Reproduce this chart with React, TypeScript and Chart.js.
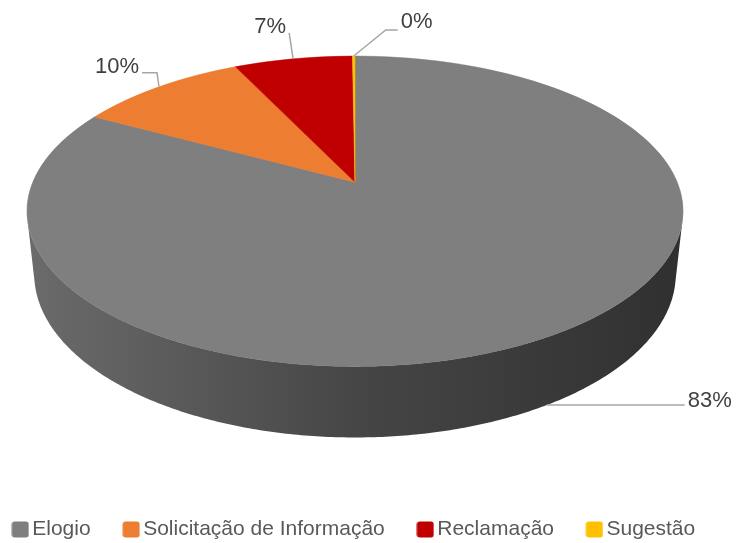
import React, { useEffect, useRef } from "react";
import { Chart, registerables } from "chart.js";

Chart.register(...registerables);

// ---- data ----
const categories = ["Elogio", "Solicitação de Informação", "Reclamação", "Sugestão"];
const values = [83, 10, 7, 0.15];
const sliceColors = ["#7f7f7f", "#ed7d31", "#c00000", "#ffc000"];

// ---- 3D view (layout / style) ----
const VIEW = {
  centerX: 355,
  topY: 56,
  halfWidth: 328,
  pitch: (27.7 * Math.PI) / 180,
  distance: 4.735,
  depth: 0.222,
};
const SIDE_SHADE: [number, number][] = [
  [0, 0.84],
  [0.5, 0.55],
  [1, 0.38],
];
const LABEL_STYLE = [
  { path: [[0, 0], [138, 0]], text: [141, -4], align: "left" },
  { path: [[0, 0], [-2, -14], [-17, -14]], text: [-20, -20], align: "right" },
  { path: [[0, 0], [-4, -26]], text: [-23, -32], align: "center" },
  { path: [[0, 0], [32, -26], [44, -26]], text: [47, -34], align: "left" },
];
const FONT = "'Liberation Sans', Arial, sans-serif";

function makeView() {
  const sin = Math.sin(VIEW.pitch);
  const cos = Math.cos(VIEW.pitch);
  const L = VIEW.distance;
  let maxF = 0;
  for (let i = 0; i <= 2000; i++) {
    const v = -1 + i / 1000;
    const fct = Math.sqrt(Math.max(0, 1 - v * v)) / (L - v * cos);
    if (fct > maxF) maxF = fct;
  }
  const f = VIEW.halfWidth / maxF;
  const X0 = VIEW.centerX;
  const Y0 = VIEW.topY + (f * sin) / (L + cos);
  const project = (u: number, v: number, z: number) => {
    const w = L - v * cos - z * sin;
    return [X0 + (f * u) / w, Y0 + (f * (v * sin - z * cos)) / w];
  };
  const vt = 1 / (L * cos);
  const thR = Math.asin(vt);
  const thL = Math.PI - thR;
  return { sin, cos, L, f, X0, Y0, project, thR, thL };
}

function shade(hex: string, k: number) {
  const n = parseInt(hex.slice(1), 16);
  const r = Math.round(((n >> 16) & 255) * k);
  const g = Math.round(((n >> 8) & 255) * k);
  const b = Math.round((n & 255) * k);
  return `rgb(${r},${g},${b})`;
}

const swatchCache: Record<string, HTMLCanvasElement> = {};
function swatch(color: string) {
  if (swatchCache[color]) return swatchCache[color];
  const c = document.createElement("canvas");
  c.width = 18;
  c.height = 17;
  const x = c.getContext("2d")!;
  x.fillStyle = color;
  x.beginPath();
  (x as any).roundRect(0.5, 0.5, 17, 16, 3);
  x.fill();
  swatchCache[color] = c;
  return c;
}

const pie3d = {
  id: "pie3d",
  beforeDatasetsDraw(chart: any) {
    const meta = chart.getDatasetMeta(0);
    const arcs = meta.data;
    if (!arcs.length) return false;
    const ctx: CanvasRenderingContext2D = chart.ctx;
    const view = makeView();
    const dpr = chart.currentDevicePixelRatio || 1;

    // side walls
    arcs.forEach((arc: any, i: number) => {
      for (let k = -1; k <= 1; k++) {
        const lo = Math.max(arc.startAngle, view.thR + 2 * Math.PI * k);
        const hi = Math.min(arc.endAngle, view.thL + 2 * Math.PI * k);
        if (hi <= lo) continue;
        const n = Math.max(2, Math.ceil((hi - lo) / 0.01));
        ctx.beginPath();
        for (let j = 0; j <= n; j++) {
          const t = lo + ((hi - lo) * j) / n;
          const [x, y] = view.project(Math.cos(t), Math.sin(t), 0);
          if (j === 0) ctx.moveTo(x, y);
          else ctx.lineTo(x, y);
        }
        for (let j = n; j >= 0; j--) {
          const t = lo + ((hi - lo) * j) / n;
          const [x, y] = view.project(Math.cos(t), Math.sin(t), -VIEW.depth);
          ctx.lineTo(x, y);
        }
        ctx.closePath();
        const g = ctx.createLinearGradient(VIEW.centerX - VIEW.halfWidth, 0, VIEW.centerX + VIEW.halfWidth, 0);
        SIDE_SHADE.forEach(([p, s]) => g.addColorStop(p, shade(sliceColors[i], s)));
        ctx.fillStyle = g;
        ctx.fill();
      }
    });

    // top face: Chart.js arcs drawn strip by strip in perspective
    const a0 = arcs[0];
    const ax = a0.x, ay = a0.y, r = a0.outerRadius;
    const yTop = Math.floor(view.project(0, -1, 0)[1]) - 1;
    const yBot = Math.ceil(view.project(0, 1, 0)[1]) + 1;
    for (let ys = yTop; ys < yBot; ys++) {
      const yc = ys + 0.5;
      const dy = yc - view.Y0;
      const v0 = (dy * view.L) / (view.f * view.sin + dy * view.cos);
      if (v0 < -1.02 || v0 > 1.02) continue;
      const w0 = view.L - v0 * view.cos;
      const sx = view.f / w0;
      const sy = (view.f * view.sin * view.L) / (w0 * w0);
      ctx.save();
      ctx.setTransform(dpr, 0, 0, dpr, 0, 0);
      ctx.beginPath();
      ctx.rect(0, ys, chart.width, 1);
      ctx.clip();
      ctx.setTransform(
        (dpr * sx) / r, 0, 0, (dpr * sy) / r,
        dpr * (view.X0 - (sx * ax) / r),
        dpr * (yc - sy * v0 - (sy * ay) / r)
      );
      arcs.forEach((a: any) => a.draw(ctx));
      ctx.restore();
    }
    return false;
  },
  afterDraw(chart: any) {
    const meta = chart.getDatasetMeta(0);
    const arcs = meta.data;
    const ctx: CanvasRenderingContext2D = chart.ctx;
    const view = makeView();
    const total = values.reduce((s, v) => s + v, 0);
    ctx.save();
    arcs.forEach((arc: any, i: number) => {
      const mid = (arc.startAngle + arc.endAngle) / 2;
      let m = mid % (2 * Math.PI);
      if (m < 0) m += 2 * Math.PI;
      const front = m >= view.thR && m <= view.thL;
      const [px, py] = view.project(Math.cos(mid), Math.sin(mid), front ? -VIEW.depth : 0);
      const st = LABEL_STYLE[i];
      ctx.strokeStyle = "#a6a6a6";
      ctx.lineWidth = 1.5;
      ctx.beginPath();
      st.path.forEach(([dx, dy], j) => {
        if (j === 0) ctx.moveTo(px + dx, py + dy);
        else ctx.lineTo(px + dx, py + dy);
      });
      ctx.stroke();
      ctx.fillStyle = "#404040";
      ctx.font = `22px ${FONT}`;
      ctx.textAlign = st.align as CanvasTextAlign;
      ctx.textBaseline = "middle";
      ctx.fillText(Math.round((values[i] / total) * 100) + "%", px + st.text[0], py + st.text[1]);
    });
    ctx.restore();
  },
};

export default function App() {
  const ref = useRef<HTMLCanvasElement | null>(null);
  useEffect(() => {
    if (!ref.current) return;
    const chart = new Chart(ref.current, {
      type: "pie",
      data: {
        labels: categories,
        datasets: [
          {
            data: values,
            backgroundColor: sliceColors,
            borderColor: sliceColors,
            borderWidth: 0.6,
          },
        ],
      },
      options: {
        animation: false,
        responsive: false,
        events: [],
        layout: { padding: { left: -31, right: -9, top: 0, bottom: 0 } },
        plugins: {
          tooltip: { enabled: false },
          legend: {
            position: "bottom",
            labels: {
              usePointStyle: true,
              pointStyleWidth: 3,
              padding: 39,
              color: "#595959",
              font: { family: FONT, size: 21 },
              generateLabels: () =>
                categories.map((c, i) => ({
                  text: c,
                  fillStyle: sliceColors[i],
                  strokeStyle: sliceColors[i],
                  lineWidth: 0,
                  pointStyle: swatch(sliceColors[i]),
                  hidden: false,
                  index: i,
                  fontColor: "#595959",
                })),
            },
          },
        },
      },
      plugins: [pie3d],
    } as any);
    return () => chart.destroy();
  }, []);
  return (
    <div
      style={{
        position: "absolute",
        left: 0,
        top: 0,
        width: 736,
        height: 543,
        overflow: "hidden",
        background: "#ffffff",
      }}
    >
      <canvas ref={ref} width={736} height={550} style={{ display: "block" }} />
    </div>
  );
}
